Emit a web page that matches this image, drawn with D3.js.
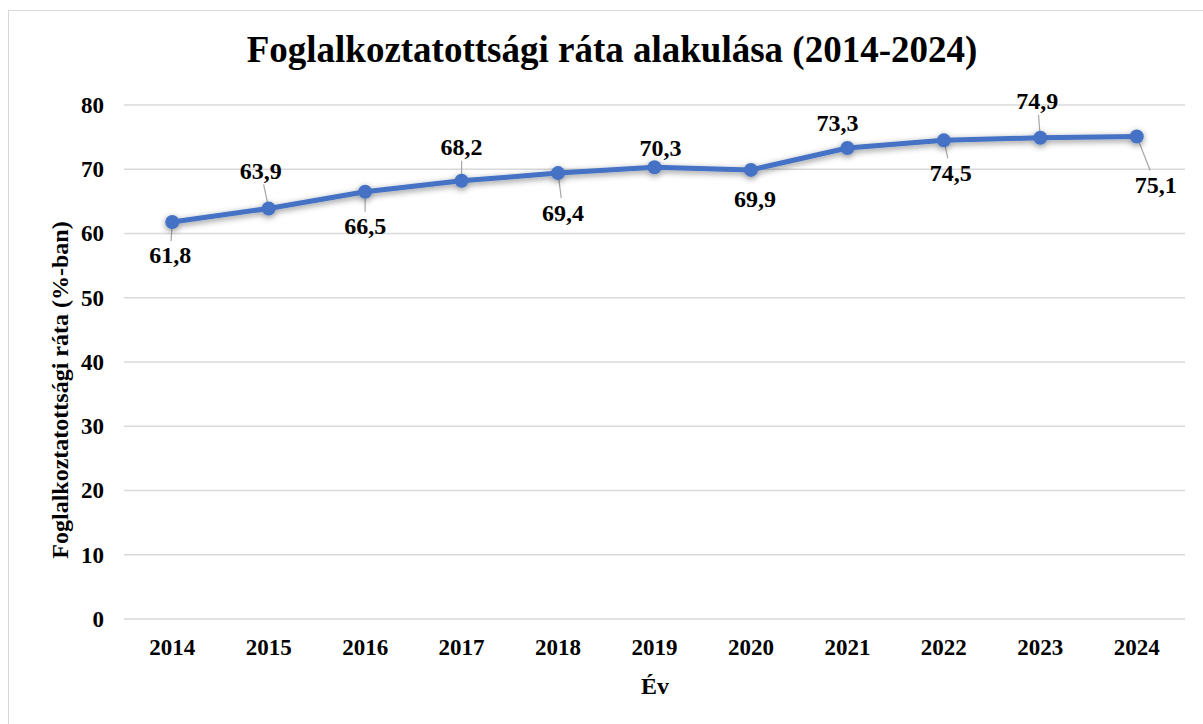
<!DOCTYPE html>
<html>
<head>
<meta charset="utf-8">
<script src="https://cdn.jsdelivr.net/npm/d3@7"></script>
<style>
  body { margin: 0; background: #fff; }
</style>
</head>
<body>
<div id="chart"></div>
<script>
const years = ["2014", "2015", "2016", "2017", "2018", "2019", "2020", "2021", "2022", "2023", "2024"];
const rates = [61.8, 63.9, 66.5, 68.2, 69.4, 70.3, 69.9, 73.3, 74.5, 74.9, 75.1];
const yTicks = [0, 10, 20, 30, 40, 50, 60, 70, 80];

// label placement (dx, dy from marker), like the hand-dragged labels of the original
const labelShift = [[-2, 33], [-8, -38], [0, 34], [0, -34], [5, 39], [6, -20],
                    [4, 29], [-10, -25], [7, 32], [-3, -37], [19, 48]];

const width = 1203, height = 724;
const margin = { top: 105, right: 18, bottom: 105, left: 124 };
const serif = "'Liberation Serif', 'Times New Roman', serif";

const svg = d3.select("#chart").append("svg")
  .attr("width", width)
  .attr("height", height)
  .attr("font-family", serif)
  .attr("font-weight", "bold");

const defs = svg.append("defs");
const shadow = defs.append("filter").attr("id", "shadow")
  .attr("x", "-20%").attr("y", "-50%").attr("width", "140%").attr("height", "200%");
shadow.append("feDropShadow")
  .attr("dx", 0).attr("dy", 2).attr("stdDeviation", 3)
  .attr("flood-color", "#000").attr("flood-opacity", 0.45);

// outer chart border
svg.append("rect")
  .attr("x", 8.5).attr("y", 10.5)
  .attr("width", width).attr("height", height)
  .attr("fill", "none").attr("stroke", "#d9d9d9").attr("stroke-width", 1);

const x = d3.scaleBand().domain(years).range([margin.left, width - margin.right]);
const y = d3.scaleLinear().domain([0, 80]).range([height - margin.bottom, margin.top]);

// gridlines
svg.append("g")
  .selectAll("line")
  .data(yTicks)
  .join("line")
  .attr("x1", margin.left).attr("x2", width - margin.right)
  .attr("y1", d => y(d)).attr("y2", d => y(d))
  .attr("stroke", "#d9d9d9").attr("stroke-width", 1.3);

// y axis
const yAxis = svg.append("g")
  .attr("transform", "translate(" + margin.left + ",0)")
  .call(d3.axisLeft(y).tickValues(yTicks).tickSize(0).tickPadding(20));
yAxis.select(".domain").remove();
yAxis.attr("font-family", serif).attr("font-size", 23);
yAxis.selectAll("text").attr("fill", "#000");

// x axis
const xAxis = svg.append("g")
  .attr("transform", "translate(0," + y(0) + ")")
  .call(d3.axisBottom(x).tickSize(0).tickPadding(20));
xAxis.select(".domain").remove();
xAxis.attr("font-family", serif).attr("font-size", 23);
xAxis.selectAll("text").attr("fill", "#000");

// title
svg.append("text")
  .attr("x", 612).attr("y", 62)
  .attr("text-anchor", "middle")
  .attr("font-size", 37)
  .text("Foglalkoztatottsági ráta alakulása (2014-2024)");

svg.append("text")
  .attr("x", 655).attr("y", 694)
  .attr("text-anchor", "middle")
  .attr("font-size", 24)
  .text("Év");

svg.append("text")
  .attr("transform", "translate(68,390) rotate(-90)")
  .attr("text-anchor", "middle")
  .attr("font-size", 24)
  .text("Foglalkoztatottsági ráta (%-ban)");

const cx = (d, i) => x(years[i]) + x.bandwidth() / 2;

// leader lines
const leaders = svg.append("g");
rates.forEach((v, i) => {
  const [dx, dy] = labelShift[i];
  const dist = Math.abs(dy);
  if (dist < 31 && !(i === 0 || i === 2)) return;
  const px = cx(v, i), py = y(v);
  const ty = py + dy - Math.sign(dy) * 14;
  const tx = px + dx * (Math.abs(ty - py) / dist);
  leaders.append("line")
    .attr("x1", px).attr("y1", py)
    .attr("x2", tx).attr("y2", ty)
    .attr("stroke", "#a6a6a6").attr("stroke-width", 1.2);
});

const line = d3.line()
  .x((d, i) => cx(d, i))
  .y(d => y(d));

const series = svg.append("g").attr("filter", "url(#shadow)");
series.append("path")
  .datum(rates)
  .attr("d", line)
  .attr("fill", "none")
  .attr("stroke", "#4472c4")
  .attr("stroke-width", 5)
  .attr("stroke-linejoin", "round");

series.selectAll("circle")
  .data(rates)
  .join("circle")
  .attr("cx", cx)
  .attr("cy", d => y(d))
  .attr("r", 7)
  .attr("fill", "#4472c4");

// data labels
svg.append("g")
  .selectAll("text")
  .data(rates)
  .join("text")
  .attr("x", (d, i) => cx(d, i) + labelShift[i][0])
  .attr("y", (d, i) => y(d) + labelShift[i][1])
  .attr("dy", "0.35em")
  .attr("text-anchor", "middle")
  .attr("font-size", 24)
  .text(d => d3.format(".1f")(d).replace(".", ","));
</script>
</body>
</html>
